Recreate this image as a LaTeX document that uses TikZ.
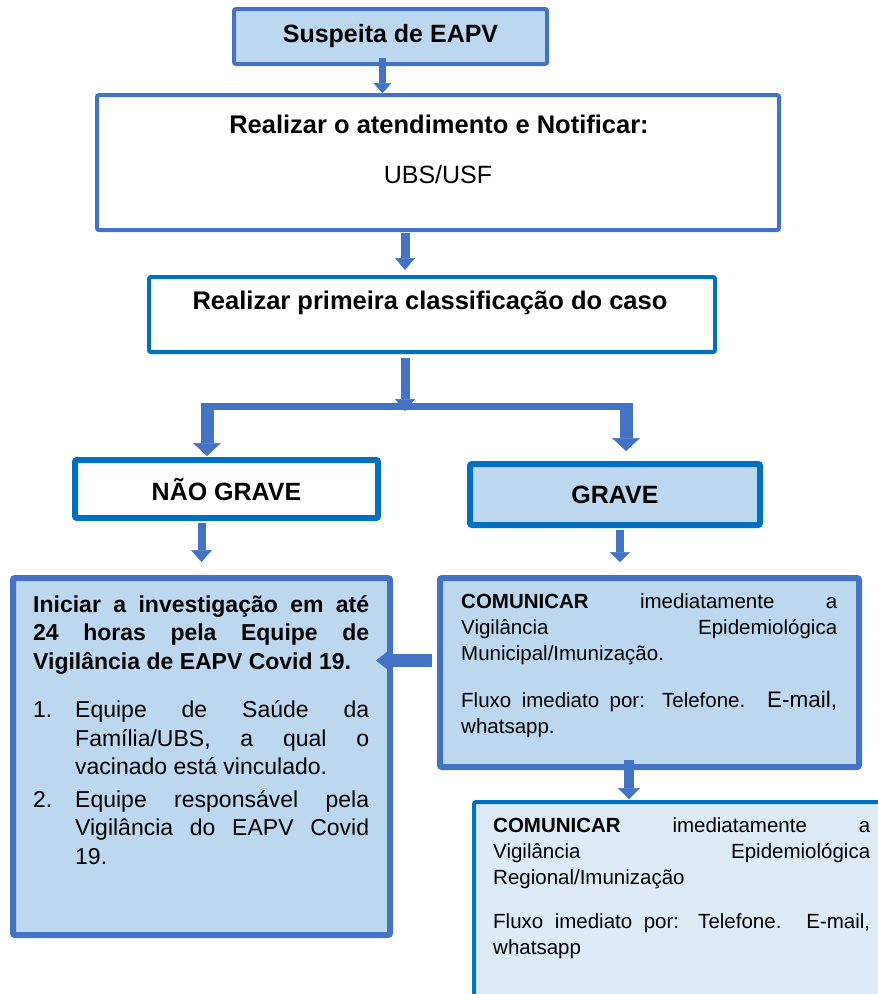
\documentclass[tikz,border=0pt]{standalone}
\usepackage{fontspec}
\setmainfont{Liberation Sans}
\usetikzlibrary{arrows.meta}

\definecolor{accblue}{HTML}{4472C4}
\definecolor{deepblue}{HTML}{0070C0}
\definecolor{paleblue}{HTML}{BDD7EE}
\definecolor{mistblue}{HTML}{DEEBF7}
\tolerance=10000
\hbadness=10000

\begin{document}
\begin{tikzpicture}[x=1pt, y=-1pt,
    flowbox/.style={rectangle, rounded corners=2pt, inner sep=0pt, align=center},
    head/.style={font=\fontsize{25}{30}\selectfont\bfseries},
    bodytext/.style={anchor=base west, inner sep=0pt, align=justify, text width=#1},
    blockarrow/.style args={#1/#2/#3}{draw=accblue, line width=#1, -{Triangle[width=#2, length=#3, line width=0.5pt]}}
]
\useasboundingbox (0,0) rectangle (878,994);
\clip (0,0) rectangle (878,994);

% Boxes
\node[flowbox, head, draw=accblue, line width=4pt, fill=paleblue, minimum width=313pt, minimum height=55pt] (susp) at (390.5,36.5) {Suspeita de EAPV};
\node[flowbox, draw=accblue, line width=4pt, minimum width=682pt, minimum height=135pt] (atend) at (438,162.5) {};
\node[flowbox, draw=deepblue, line width=4pt, minimum width=566pt, minimum height=75pt] (classif) at (432,314.5) {};
\node[flowbox, head, draw=deepblue, line width=6pt, minimum width=303pt, minimum height=58pt] (naograve) at (226.5,489) {NÃO GRAVE};
\node[flowbox, head, draw=deepblue, line width=6pt, fill=paleblue, minimum width=290pt, minimum height=61pt] (grave) at (615,494.5) {GRAVE};
\node[flowbox, draw=accblue, line width=6pt, fill=paleblue, minimum width=377pt, minimum height=357pt] (invest) at (201.5,756.5) {};
\node[flowbox, draw=accblue, line width=6pt, fill=paleblue, minimum width=419pt, minimum height=189pt] (commun) at (649.5,672.5) {};
\node[flowbox, draw=deepblue, line width=4pt, fill=mistblue, minimum width=432pt, minimum height=216pt] (comreg) at (690,910) {};

% Texts
\node[head, font=\fontsize{25.5}{30}\selectfont\bfseries, anchor=base] (atendtxt) at (439,133) {Realizar o atendimento e Notificar:};
\node[anchor=base, font=\fontsize{25}{30}\selectfont] (ubs) at (438,183) {UBS/USF};
\node[head, font=\fontsize{25.5}{30}\selectfont\bfseries, anchor=base] (classtxt) at (430,309) {Realizar primeira classificação do caso};
\node[bodytext=336pt, font=\fontsize{23}{28.5}\selectfont] (investtxt) at (33,612) {%
  \textbf{Iniciar a investigação em até\linebreak 24 horas pela Equipe de\linebreak Vigilância de EAPV Covid 19.}\par\vspace{20pt}
  \hangindent=42pt\hangafter=1\noindent\makebox[42pt][l]{1.}Equipe de Saúde da\linebreak Família/UBS, a qual o\linebreak vacinado está vinculado.\par\vspace{4pt}
  \hangindent=42pt\hangafter=1\noindent\makebox[42pt][l]{2.}Equipe responsável pela\linebreak Vigilância do EAPV Covid\linebreak 19.\par};
\node[bodytext=376pt, font=\fontsize{20.5}{26}\selectfont] (communtxt) at (461,608) {%
  \textbf{COMUNICAR} imediatamente a\linebreak Vigilância Epidemiológica\linebreak Municipal/Imunização.\par\vspace{21pt}
  Fluxo imediato por: Telefone. {\fontsize{22.5}{26}\selectfont E-mail,}\linebreak whatsapp.};
\node[bodytext=377pt, font=\fontsize{20.5}{26}\selectfont] (comregtxt) at (493,832) {%
  \textbf{COMUNICAR} imediatamente a\linebreak Vigilância Epidemiológica\linebreak Regional/Imunização\par\vspace{18pt}
  Fluxo imediato por: Telefone. E-mail,\linebreak whatsapp};

% Branch
\coordinate (brM) at (405,406);
\coordinate (brL) at (207,406);
\coordinate (brR) at (626,406);
\draw[accblue, line width=7pt] ([xshift=-6.5pt]brL) -- ([xshift=7pt]brR);

% Arrows
\draw[blockarrow=7pt/18pt/10pt, shorten <=-8pt] ([xshift=-8pt]susp.south) -- ([xshift=-8pt]susp.south |- atend.north);
\draw[blockarrow=9pt/20pt/12pt, shorten <=1pt, shorten >=5pt] (brM |- atend.south) -- (brM |- classif.north);
\draw[blockarrow=9pt/20pt/12pt, shorten <=4pt, shorten >=-5pt] (brM |- classif.south) -- (brM);
\draw[blockarrow=13pt/28pt/13pt, shorten <=-3pt, shorten >=1pt] (brL) -- (brL |- naograve.north);
\draw[blockarrow=13pt/28pt/13pt, shorten <=-3pt, shorten >=10pt] (brR) -- (brR |- grave.north);
\draw[blockarrow=8pt/21pt/12pt, shorten <=2pt, shorten >=13pt] (invest.north |- naograve.south) -- (invest.north);
\draw[blockarrow=8pt/20pt/10pt, shorten <=2pt, shorten >=13pt] ([xshift=5pt]grave.south) -- ([xshift=5pt]grave.south |- commun.north);
\draw[blockarrow=10pt/22pt/11pt, shorten <=-10pt, shorten >=1pt] ([xshift=-20.5pt]commun.south) -- ([xshift=-20.5pt]commun.south |- comreg.north);
\draw[blockarrow=13pt/25pt/16pt, shorten <=5pt, shorten >=-17pt] ([yshift=12pt]commun.west) -- ([yshift=12pt]commun.west -| invest.east);

\end{tikzpicture}
\end{document}
